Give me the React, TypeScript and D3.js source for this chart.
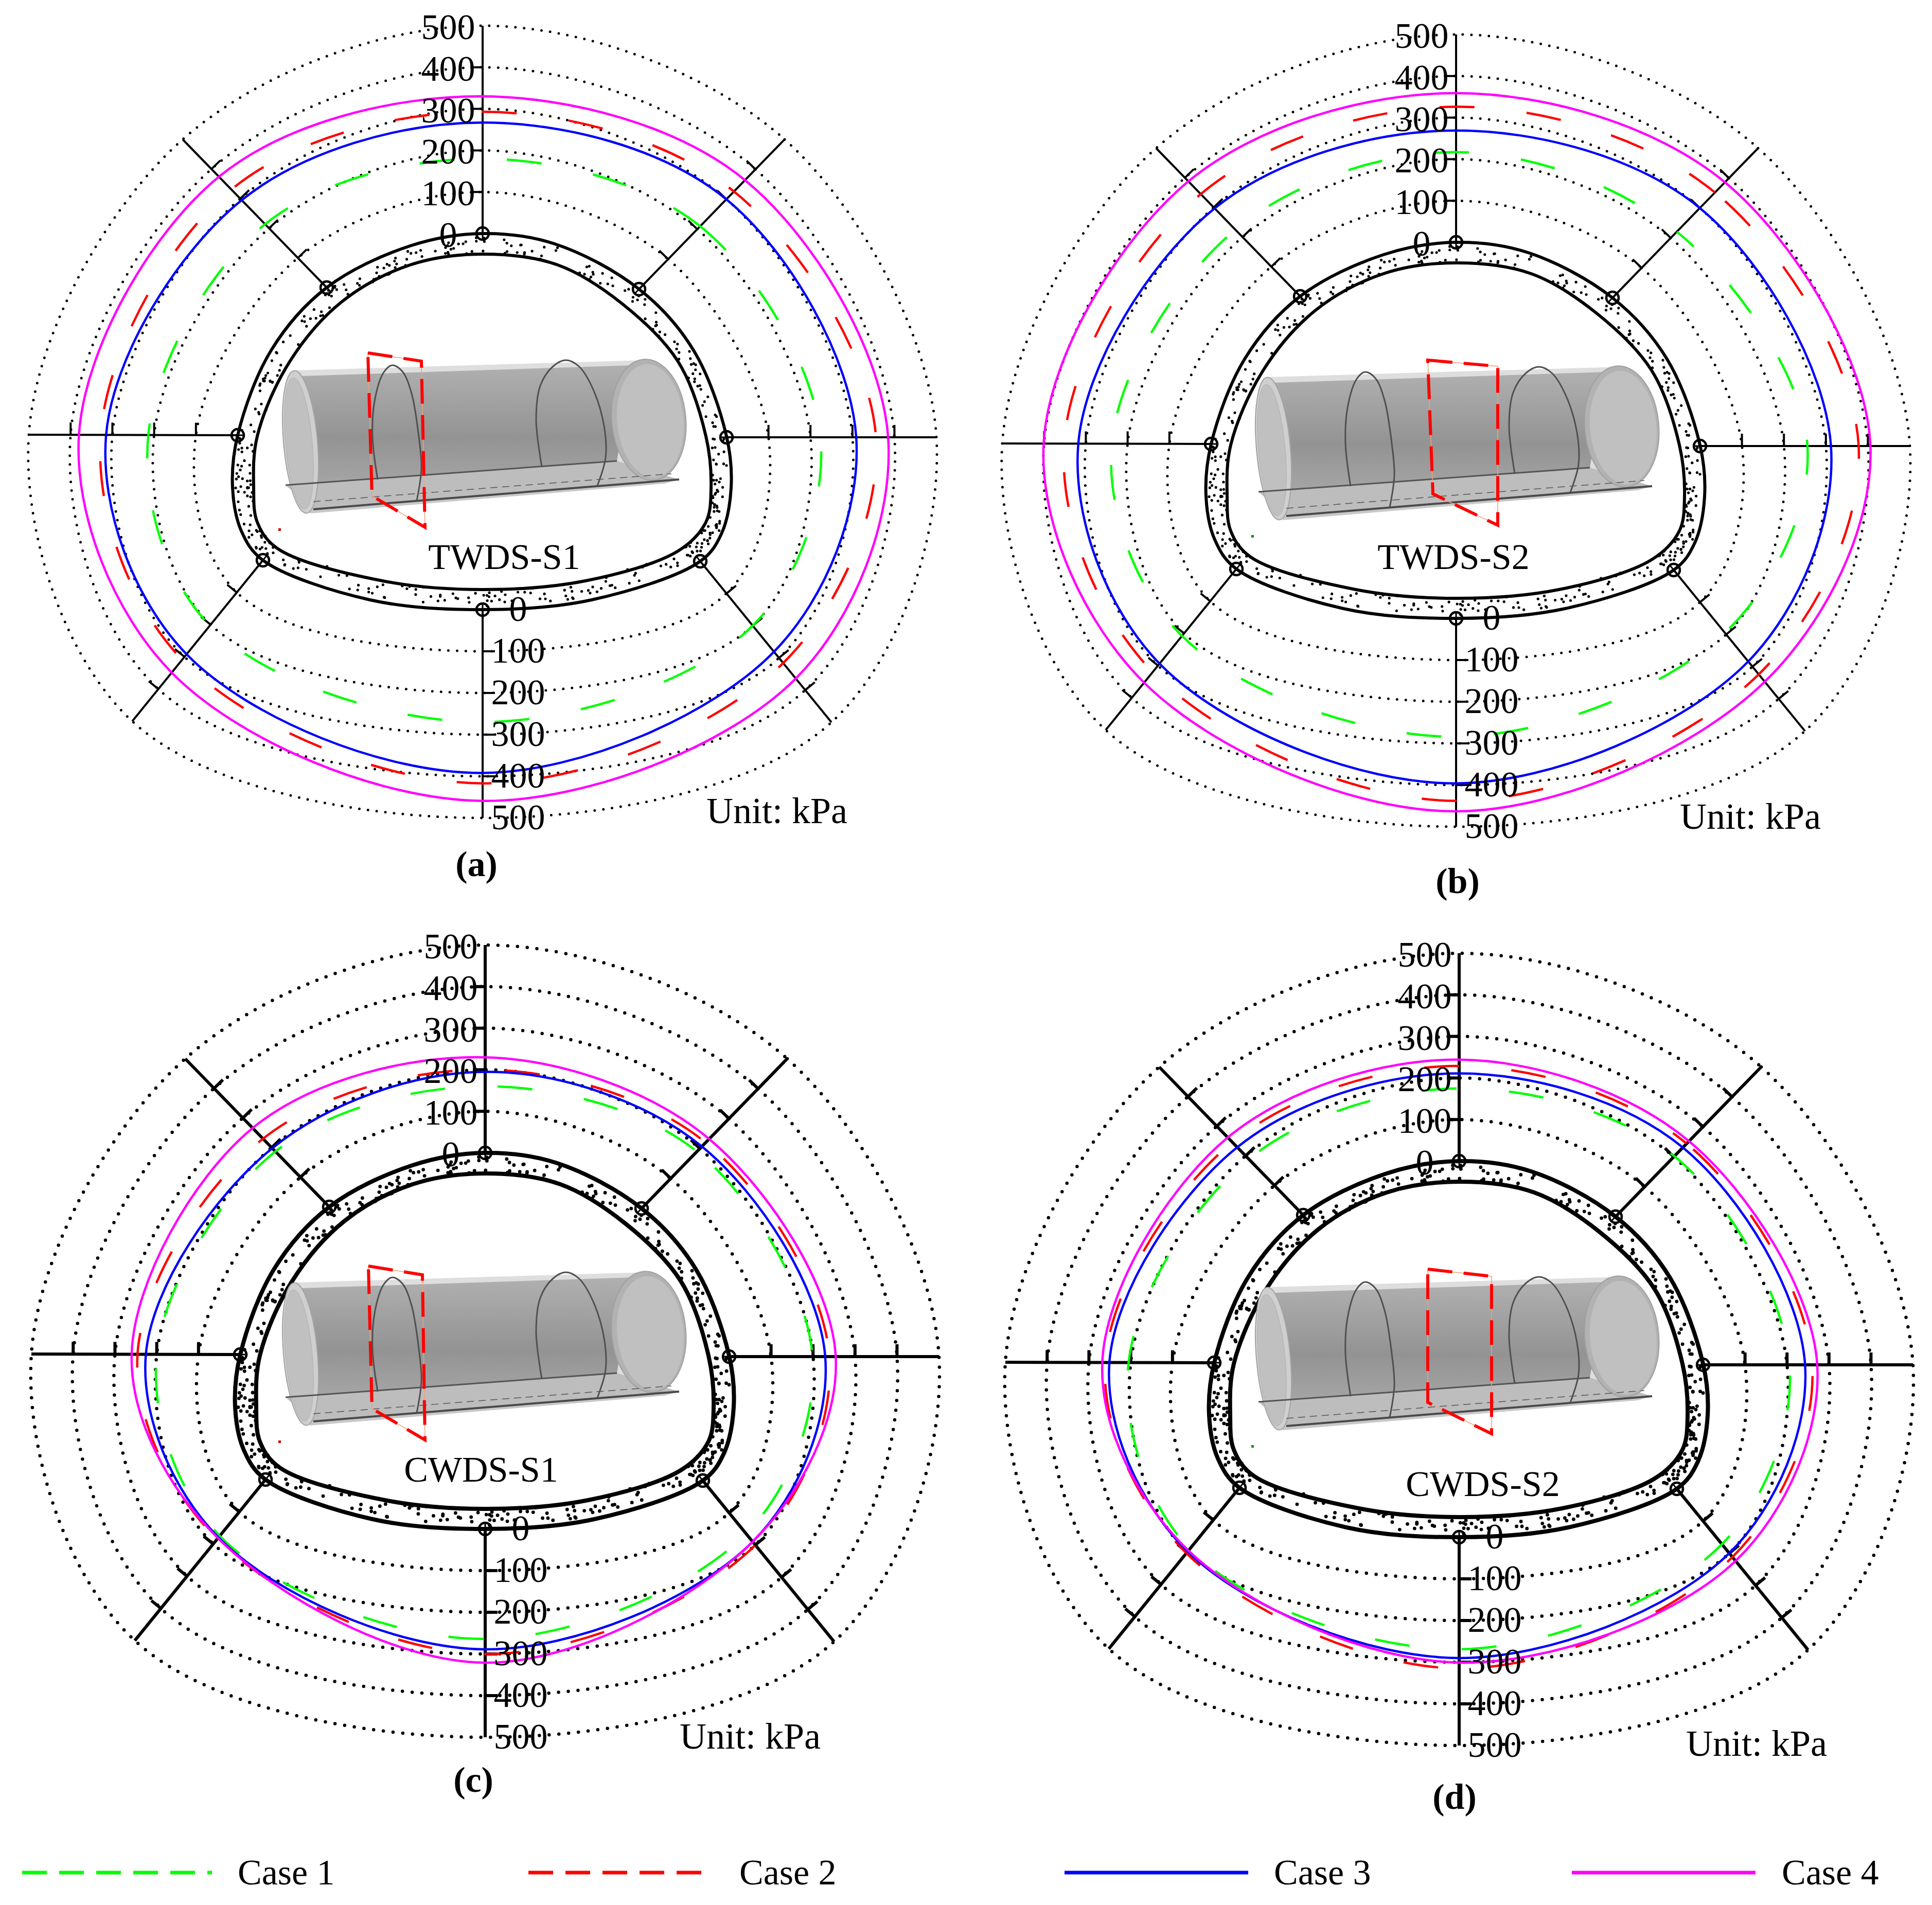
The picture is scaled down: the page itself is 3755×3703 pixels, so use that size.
import React from "react";
import * as d3 from "d3";

// values read at the 8 gauges: top, upper right, right, lower right, bottom, lower left, left, upper left
const twdsS1Case1 = [180, 210, 224, 200, 270, 203, 214, 214];
const twdsS1Case2 = [293, 326, 356, 316, 417, 309, 328, 331];
const twdsS1Case3 = [267, 300, 309, 281, 392, 292, 315, 295];
const twdsS1Case4 = [330, 364, 385, 364, 459, 349, 380, 374];

const twdsS2Case1 = [217, 221, 256, 195, 284, 208, 238, 225];
const twdsS2Case2 = [326, 352, 378, 324, 438, 320, 352, 345];
const twdsS2Case3 = [269, 300, 312, 284, 396, 294, 318, 297];
const twdsS2Case4 = [359, 386, 406, 347, 463, 353, 401, 388];

const cwdsS1Case1 = [160, 190, 199, 165, 264, 175, 200, 187];
const cwdsS1Case2 = [200, 220, 239, 200, 300, 185, 246, 230];
const cwdsS1Case3 = [195, 207, 229, 190, 289, 180, 226, 198];
const cwdsS1Case4 = [230, 232, 254, 190, 321, 182, 260, 266];

const cwdsS2Case1 = [175, 202, 206, 172, 269, 190, 205, 189];
const cwdsS2Case2 = [229, 244, 260, 212, 315, 203, 261, 246];
const cwdsS2Case3 = [211, 231, 243, 200, 290, 198, 251, 229];
const cwdsS2Case4 = [244, 252, 272, 224, 301, 195, 268, 262];

const ringLevels = [100, 200, 300, 400, 500];
const axisTicks = [0, 100, 200, 300, 400, 500];
const caseNames = ["Case 1", "Case 2", "Case 3", "Case 4"];
const caseColors = ["#00ff00", "#ff0000", "#0000ff", "#ff00ff"];
const caseDashes = ["68 102", "68 102", null, null];

// layout of one panel, relative to where the two axes cross
const spokeNodes: [number, number][] = [
  [0, -394], [304, -286], [474, 2], [423, 243], [0, 337], [-427, 241], [-476, -2], [-303, -289],
];
const spokeEnds: [number, number][] = [
  [0, -798], [587, -577], [882, 2], [678, 556], [0, 742], [-681, 554], [-882, -3], [-583, -577],
];
const tickSides = [-1, -1, -1, -1, -1, 1, 1, 1];

const outerWall: [number, number][] = [
  [0, -394], [140, -374], [304, -286], [410, -167], [474, 0], [483, 100], [464, 190], [423, 243], [212, 318],
  [0, 337], [-219, 318], [-427, 241], [-469, 184], [-486, 100], [-476, -2], [-411, -167], [-303, -289], [-141, -370],
];
const innerWall: [number, number][] = [
  [0, -354], [146, -333], [272, -257], [380, -145], [434, 0], [444, 100], [434, 167], [380, 223], [200, 281],
  [0, 298], [-195, 281], [-399, 218], [-438, 167], [-445, 100], [-438, 0], [-375, -145], [-273, -262], [-141, -333],
];

const panels = [
  { name: "TWDS-S1", tag: "(a)", x: 938, y: 848, heavy: false, tubeDx: 0, tubeDy: 0,
    nameAt: [980, 1083], unitAt: [1373, 1577], tagAt: [926, 1680], dashStart: [170, 146], speck: "#cc0000",
    frame: [[715, 686], [819, 702], [826, 1025], [723, 964]],
    series: [twdsS1Case1, twdsS1Case2, twdsS1Case3, twdsS1Case4] },
  { name: "TWDS-S2", tag: "(b)", x: 2830, y: 865, heavy: false, tubeDx: 1891, tubeDy: 13,
    nameAt: [2825, 1083], unitAt: [3265, 1588], tagAt: [2833, 1713], dashStart: [146, 196], speck: "#009900",
    frame: [[2775, 700], [2911, 712], [2911, 1021], [2785, 960]],
    series: [twdsS2Case1, twdsS2Case2, twdsS2Case3, twdsS2Case4] },
  { name: "CWDS-S1", tag: "(c)", x: 943, y: 2635, heavy: true, tubeDx: 0, tubeDy: 1773,
    nameAt: [935, 2857], unitAt: [1321, 3376], tagAt: [920, 3460], dashStart: [217, 217], speck: "#cc0000",
    frame: [[716, 2461], [821, 2478], [826, 2799], [723, 2738]],
    series: [cwdsS1Case1, cwdsS1Case2, cwdsS1Case3, cwdsS1Case4] },
  { name: "CWDS-S2", tag: "(d)", x: 2836, y: 2651, heavy: true, tubeDx: 1891, tubeDy: 1782,
    nameAt: [2882, 2885], unitAt: [3277, 3390], tagAt: [2827, 3493], dashStart: [154, 187], speck: "#009900",
    frame: [[2775, 2467], [2899, 2481], [2899, 2787], [2775, 2726]],
    series: [cwdsS2Case1, cwdsS2Case2, cwdsS2Case3, cwdsS2Case4] },
];

const legendLines = [[43, 412], [1027, 1365], [2069, 2426], [3055, 3412]];
const legendTextX = [462, 1437, 2476, 3463];

const spokeX = spokeNodes.map((n, i) => d3.scaleLinear().domain([0, 500]).range([n[0], spokeEnds[i][0]]));
const spokeY = spokeNodes.map((n, i) => d3.scaleLinear().domain([0, 500]).range([n[1], spokeEnds[i][1]]));

const closedLine = d3.line().curve(d3.curveCatmullRomClosed.alpha(0.5));
const openLine = d3.line().curve(d3.curveCatmullRom.alpha(0.5));

const toPoints = (values: number[]): [number, number][] =>
  values.map((v, i) => [spokeX[i](v), spokeY[i](v)]);

// concrete filling of the lining, a fixed scatter so it is the same on every run
const scatter = (k: number, a: number) => {
  const s = Math.sin(k * a) * 43758.5453;
  return s - Math.floor(s);
};
const stipple: [number, number][] = d3.range(400).map((k) => {
  const t = scatter(k + 1, 12.9898) * outerWall.length;
  const f = 0.1 + 0.8 * scatter(k + 1, 78.233);
  const i = Math.floor(t);
  const j = (i + 1) % outerWall.length;
  const u = t - i;
  const ox = outerWall[i][0] * (1 - u) + outerWall[j][0] * u;
  const oy = outerWall[i][1] * (1 - u) + outerWall[j][1] * u;
  const ix = innerWall[i][0] * (1 - u) + innerWall[j][0] * u;
  const iy = innerWall[i][1] * (1 - u) + innerWall[j][1] * u;
  return [ox * (1 - f) + ix * f, oy * (1 - f) + iy * f];
});

const serif = "'Liberation Serif', serif";

const Tube: React.FC<{ dx: number; dy: number; id: string; speck: string }> = ({ dx, dy, id, speck }) => (
  <g transform={`translate(${dx},${dy})`}>
    <defs>
      <linearGradient id={id} x1="0" y1="0" x2="0" y2="1">
        <stop offset="0" stopColor="#b0b0b0" />
        <stop offset="0.6" stopColor="#939393" />
        <stop offset="1" stopColor="#a6a6a6" />
      </linearGradient>
    </defs>
    <polygon points="571,720 1260,700 1260,932 597,998" fill="#dedede" />
    <polygon points="585,731 1230,710 1199,896 585,945" fill={`url(#${id})`} />
    <polygon points="555,943 1199,896 1320,932 609,990" fill="#bdbdbd" />
    <polygon points="603,990 1320,932 1292,940 603,998" fill="#c8c8c8" />
    <ellipse cx={584} cy={859} rx={33} ry={139} transform="rotate(-5 584 859)" fill="#cfcfcf" stroke="#a4a4a4" strokeWidth={2} />
    <ellipse cx={581} cy={862} rx={26} ry={128} transform="rotate(-5 581 862)" fill="#c0c0c0" stroke="#b0b0b0" strokeWidth={1} />
    <ellipse cx={1261} cy={816} rx={72} ry={118} transform="rotate(-5 1261 816)" fill="#b2b2b2" stroke="#a0a0a0" strokeWidth={2} />
    <ellipse cx={1264} cy={818} rx={65} ry={111} transform="rotate(-5 1264 818)" fill="#c0c0c0" stroke="#b2b2b2" strokeWidth={1} />
    <line x1={555} y1={943} x2={1199} y2={896} stroke="#555555" strokeWidth={3} />
    <line x1={609} y1={975} x2={1305} y2={921} stroke="#555555" strokeWidth={1.5} strokeDasharray="14 9" />
    <line x1={609} y1={990} x2={1320} y2={932} stroke="#4a4a4a" strokeWidth={4} />
    <path
      d={openLine([[734, 932], [724, 849], [728, 780], [745, 725], [762, 710], [782, 722], [800, 765], [814, 849], [819, 911], [810, 973]]) as string}
      fill="none" stroke="#505050" strokeWidth={3}
    />
    <path
      d={openLine([[1053, 907], [1042, 816], [1050, 750], [1075, 712], [1100, 700], [1125, 712], [1152, 755], [1174, 828], [1177, 890], [1161, 944]]) as string}
      fill="none" stroke="#505050" strokeWidth={3}
    />
    <rect x={541} y={1027} width={5} height={5} fill={speck} />
  </g>
);

const Panel: React.FC<{ p: (typeof panels)[number] }> = ({ p }) => {
  const lineW = p.heavy ? 6 : 4;
  const wallW = p.heavy ? 8 : 6;
  const dotW = p.heavy ? 6.5 : 5;
  const dotGap = p.heavy ? 19 : 17;
  const framePath = `M${p.frame.map((q) => q.join(",")).join("L")}Z`;

  return (
    <g>
      <g transform={`translate(${p.x},${p.y})`}>
        {ringLevels.map((level) => (
          <path
            key={level}
            d={closedLine(toPoints(spokeNodes.map(() => level))) as string}
            fill="none"
            stroke="#000"
            strokeWidth={dotW}
            strokeLinecap="round"
            strokeDasharray={`0 ${dotGap}`}
          />
        ))}
        {spokeNodes.map((n, i) => {
          const ex = spokeEnds[i][0] - n[0];
          const ey = spokeEnds[i][1] - n[1];
          const len = Math.hypot(ex, ey);
          const nx = (-ey / len) * tickSides[i];
          const ny = (ex / len) * tickSides[i];
          return (
            <g key={i}>
              <line x1={n[0]} y1={n[1]} x2={spokeEnds[i][0]} y2={spokeEnds[i][1]} stroke="#000" strokeWidth={lineW} />
              {ringLevels.slice(0, 4).map((level) => (
                <line
                  key={level}
                  x1={spokeX[i](level)}
                  y1={spokeY[i](level)}
                  x2={spokeX[i](level) + nx * 24}
                  y2={spokeY[i](level) + ny * 24}
                  stroke="#000"
                  strokeWidth={lineW}
                />
              ))}
            </g>
          );
        })}
        <path d={closedLine(outerWall) as string} fill="#fff" stroke="#000" strokeWidth={wallW} />
        <path d={closedLine(innerWall) as string} fill="#fff" stroke="#000" strokeWidth={wallW} />
        {stipple.map((q, i) => (
          <circle key={i} cx={q[0]} cy={q[1]} r={p.heavy ? 3.4 : 2.6} fill="#000" />
        ))}
        {spokeNodes.map((n, i) => (
          <g key={i}>
            <circle cx={n[0]} cy={n[1]} r={12} fill="none" stroke="#000" strokeWidth={4.5} />
            <line
              x1={n[0] + (spokeEnds[i][0] - n[0]) * 0.03}
              y1={n[1] + (spokeEnds[i][1] - n[1]) * 0.03}
              x2={n[0] - (spokeEnds[i][0] - n[0]) * 0.03}
              y2={n[1] - (spokeEnds[i][1] - n[1]) * 0.03}
              stroke="#000"
              strokeWidth={3}
            />
          </g>
        ))}
        {p.series.map((values, c) => (
          <path
            key={c}
            d={closedLine(toPoints(values)) as string}
            fill="none"
            stroke={caseColors[c]}
            strokeWidth={4.5}
            strokeDasharray={caseDashes[c] ?? undefined}
            strokeDashoffset={caseDashes[c] ? -p.dashStart[c] : undefined}
          />
        ))}
        {axisTicks.map((t) => (
          <text key={`u${t}`} x={-67} y={spokeY[0](t) + 26} fontSize={70} textAnchor="middle" fontFamily={serif}>
            {t}
          </text>
        ))}
        {axisTicks.map((t) => (
          <text key={`d${t}`} x={69} y={spokeY[4](t) + 22} fontSize={70} textAnchor="middle" fontFamily={serif}>
            {t}
          </text>
        ))}
      </g>
      <Tube dx={p.tubeDx} dy={p.tubeDy} id={`tube-${p.tag[1]}`} speck={p.speck} />
      <path d={framePath} fill="none" stroke="#f0a080" strokeWidth={1.5} />
      <path d={framePath} fill="none" stroke="#ff0000" strokeWidth={6} strokeDasharray="48 22" />
      <text x={p.nameAt[0]} y={p.nameAt[1] + 23} fontSize={70} textAnchor="middle" fontFamily={serif}>
        {p.name}
      </text>
      <text x={p.unitAt[0]} y={p.unitAt[1] + 23} fontSize={72} fontFamily={serif}>
        Unit: kPa
      </text>
      <text x={p.tagAt[0]} y={p.tagAt[1] + 23} fontSize={70} fontWeight="bold" textAnchor="middle" fontFamily={serif}>
        {p.tag}
      </text>
    </g>
  );
};

const App: React.FC = () => (
  <svg
    width={3755}
    height={3703}
    viewBox="0 0 3755 3703"
    style={{ position: "absolute", left: 0, top: 0, background: "#fff" }}
  >
    {panels.map((p) => (
      <Panel key={p.tag} p={p} />
    ))}
    {caseNames.map((name, i) => (
      <g key={name}>
        <line
          x1={legendLines[i][0]}
          y1={3640}
          x2={legendLines[i][1]}
          y2={3640}
          stroke={caseColors[i]}
          strokeWidth={7}
          strokeDasharray={caseDashes[i] ? "48 24" : undefined}
        />
        <text x={legendTextX[i]} y={3663} fontSize={70} fontFamily={serif}>
          {name}
        </text>
      </g>
    ))}
  </svg>
);

export default App;
